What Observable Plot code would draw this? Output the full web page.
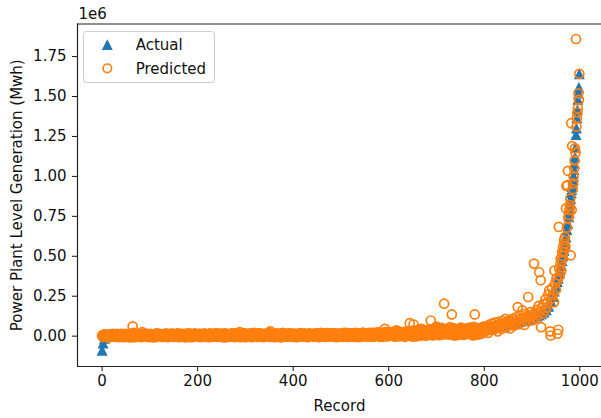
<!DOCTYPE html>
<html>
<head>
<meta charset="utf-8">
<script src="https://cdn.jsdelivr.net/npm/d3@7"></script>
<script src="https://cdn.jsdelivr.net/npm/@observablehq/plot@0.6"></script>
<style>
html, body { margin: 0; padding: 0; background: #fff; overflow: hidden; }
#chart { width: 601px; height: 418px; }
</style>
</head>
<body>
<div id="chart"></div>
<script>
// ---------- DATA (values in thousands of Mwh) ----------
const seriesNames = ["Actual", "Predicted"];
const yTicks = [0, 0.25, 0.5, 0.75, 1.0, 1.25, 1.5, 1.75];   // in 1e6 Mwh
const xTicks = [0, 200, 400, 600, 800, 1000];

// Actual: record numbers and values
const actualRecord = [0, 2, 5, 10, 20, 40, 60, 80, 100, 120, 140, 160, 180, 200, 220, 240, 260, 280, 300,
  320, 340, 360, 380, 400, 420, 440, 460, 480, 500, 520, 540, 560, 580, 600, 620, 640, 660, 680, 700,
  720, 740, 760, 780,
  800, 805, 810, 815, 820, 825, 830, 835, 840, 845, 850, 855, 860, 865, 870, 875, 880, 885, 890, 895,
  900, 905, 910, 915, 920, 925, 930, 935, 940, 944, 947, 950, 953, 955, 957, 959, 961, 963, 965, 967,
  969, 971, 973, 975, 977, 978, 979, 980, 981, 982, 983, 984, 985, 986, 987, 988, 989, 990, 991, 992,
  993, 994, 995, 996, 997, 998, 999];
const actualValue = [-90, -45, -15, -3, 0, 1, 1, 2, 2, 2, 3, 3, 3, 3, 4, 4, 4, 5, 5,
  5, 6, 6, 6, 7, 7, 7, 8, 8, 9, 9, 10, 10, 11, 12, 13, 14, 16, 18, 20,
  23, 27, 32, 38,
  45, 47, 50, 52, 55, 57, 60, 63, 66, 69, 72, 75, 78, 82, 86, 90, 94, 98, 102, 107,
  112, 117, 123, 130, 138, 148, 162, 185, 215, 245, 280, 310, 340, 360, 390, 415, 440, 470, 500, 535,
  575, 620, 665, 705, 745, 770, 800, 830, 860, 895, 915, 935, 955, 975, 1000, 1040, 1080, 1120, 1180, 1260,
  1300, 1365, 1415, 1480, 1520, 1555, 1640];

// Predicted, records 0, 4, 8, ... 796
const predictedFlatA = [
  2, 8, -3, 5, 0, 6, -2, 4, 7, 1,
  3, -4, 9, 2, 6, -1, 61, 5, 0, 8,
  3, 25, -2, 7, 1, 4, -3, 9, 2, 5,
  6, 0, 10, 3, -2, 8, 4, 1, 11, 5,
  2, 9, -1, 6, 12, 3, 7, 0, 5, 10,
  4, 8, 1, 11, 6, -2, 9, 3, 7, 12,
  5, 1, 10, 6, 13, 3, 8, -1, 11, 4,
  9, 2, 25, 7, 12, 5, 0, 10, 14, 6,
  3, 11, 8, 1, 13, 6, 10, 4, 30, 9,
  12, 5, 15, 8, 2, 11, 14, 7, 10, 4,
  8, 3, 12, 0, 6, -3, 10, 5, 2, 13,
  7, -1, 10, 14, 4, 8, 1, 11, 6, 15,
  4, 10, 2, 15, 8, 12, 0, 9, 16, 6,
  12, 4, 17, 9, 2, 14, 18, 7, 11, 15,
  8, 19, 4, 14, 11, 20, 9, 16, 46, 12,
  14, 24, 8, 21, 36, 12, 19, 5, 23, 16,
  22, 81, 15, 73, 28, 10, 25, 46, 18, 30,
  30, 41, 98, 22, 44, 60, 15, 36, 28, 203,
  30, 18, 56, 136, 40, 12, 35, 24, 45, 8,
  38, 15, 48, 28, 5, 136, 42, 20, 52, 30];

// Predicted, records 1, 5, 9, ... 797
const predictedFlatB = [
  5, -2, 11, 7, -5, 3, 13, 0, 9, -3,
  14, 6, -1, 10, 4, 16, -4, 8, 12, 1,
  -3, 9, 15, 2, 11, -5, 7, 13, 0, 16,
  8, 3, -4, 12, 6, 15, -2, 10, 4, 14,
  11, -3, 7, 15, 1, 9, -6, 13, 5, -1,
  9, 14, 2, -4, 12, 7, 16, -2, 10, 5,
  13, -3, 9, 4, 15, -6, 11, 6, -2, 17,
  6, 14, 10, -3, 8, 15, 3, -5, 12, 9,
  16, 2, -4, 11, 7, -1, 14, 5, 12, -3,
  8, 15, 3, 13, -4, 17, 6, 11, -2, 14,
  4, 12, -5, 9, 16, 2, -2, 14, 10, 5,
  15, 3, 8, -4, 12, 17, 5, -3, 10, 13,
  6, -2, 14, 9, 3, 18, -4, 12, 7, 16,
  2, 16, 8, -3, 13, 5, -1, 19, 9, 4,
  17, 6, -2, 22, 11, 3, 14, -4, 19, 8,
  5, 18, 12, -3, 24, 9, 15, 2, 27, 11,
  18, 4, 26, 12, -2, 32, 20, 8, 29, 14,
  10, 36, 22, 5, 40, 18, 30, 12, 45, 26,
  34, 10, 48, 22, 4, 44, 28, 18, 50, 38,
  12, 42, 30, 54, 24, 8, 46, 36, 14, 55];

// Predicted, records 2, 6, 10, ... 798
const predictedFlatC = [
  -6, 12, 3, -8, 9, 14, -4, 10, -7, 13,
  11, -6, 15, 4, -8, 12, 20, -5, 14, 3,
  -7, 16, 6, 12, -6, 14, 2, -8, 17, 9,
  13, -5, 8, 17, -7, 11, 15, -4, 6, 18,
  -6, 14, 10, -8, 16, 4, 13, -5, 18, 7,
  15, -7, 12, 17, 2, -6, 16, 11, -4, 19,
  -5, 16, 7, -8, 18, 12, -3, 15, 9, -6,
  17, 8, -7, 14, 19, -4, 12, 16, -6, 20,
  10, -5, 18, 13, -7, 16, 8, 19, -3, 14,
  -6, 17, 11, -8, 20, 9, -4, 18, 13, -5,
  16, -6, 12, 19, -3, 14, 8, -7, 17, 11,
  -4, 18, 13, -6, 20, 10, -5, 17, 14, -2,
  19, 7, -6, 16, 12, -3, 21, 9, -5, 18,
  13, -4, 20, 11, -6, 17, 22, -2, 15, 10,
  -3, 21, 14, 6, 24, -5, 18, 12, 27, -1,
  20, 8, 26, -2, 17, 29, 5, 22, -4, 25,
  12, 30, -3, 21, 34, 7, 27, 15, 38, 2,
  28, 44, 10, 33, 18, 50, 6, 37, 24, 41,
  16, 38, 26, 8, 42, 22, 34, 12, 45, 28,
  20, 46, 36, 10, 48, 26, 42, 16, 50, 34];

// Predicted, records 3, 7, 11, ... 799
const predictedFlatD = [
  10, 1, -5, 8, 12, -1, 6, 15, 3, -4,
  7, 13, 2, -3, 11, 9, -6, 14, 5, 10,
  12, -1, 6, 14, 8, -4, 11, 3, 15, -2,
  1, 13, 9, -5, 10, 2, 16, 7, -3, 12,
  14, 6, -2, 11, 8, 17, 2, -4, 13, 9,
  -1, 12, 6, 15, 9, 3, -5, 14, 8, 1,
  10, 7, 16, 1, -4, 13, 5, 17, 2, 11,
  -2, 11, 16, 4, -6, 13, 8, 18, 1, 12,
  7, 17, 2, 15, -2, 10, 13, -5, 16, 6,
  14, -1, 9, 16, 5, -3, 12, 2, 17, 8,
  -2, 15, 7, 3, 13, 18, -4, 9, 14, 1,
  11, 7, 17, -2, 5, 14, 9, 19, -3, 12,
  9, 17, 3, -5, 15, 6, 13, 20, 2, -2,
  15, 7, -4, 18, 12, 1, 16, 8, -3, 20,
  10, -3, 16, 13, 4, 21, 7, 24, 15, 2,
  13, 20, 6, 28, 10, -1, 22, 16, 4, 30,
  6, 22, 34, 10, 26, 40, 3, 24, 16, 35,
  20, 8, 28, 46, 14, 38, 24, 52, 10, 32,
  42, 24, 14, 50, 32, 6, 40, 54, 20, 44,
  30, 52, 18, 40, 58, 26, 10, 48, 36, 60];

// Predicted, upper records
const predictedTailRecord = [800, 802, 804, 806, 808, 810, 812, 814, 816, 818, 820,
  822, 824, 826, 828, 830, 832, 834, 836, 838, 840,
  842, 844, 846, 848, 850, 852, 854, 856, 858, 860,
  862, 864, 866, 868, 870, 872, 874, 876, 878, 880,
  882, 884, 886, 888, 890, 892, 894, 896, 898, 900,
  902, 904, 906, 908, 910, 912, 914, 915, 916, 918, 919, 920, 922, 924, 926, 928, 930, 932, 934, 936,
  938, 939, 940, 942, 944, 946, 947, 948, 950, 951, 953, 954, 955, 956, 957, 958, 959, 960, 961, 962,
  963, 964, 965, 966, 967, 968, 969, 970, 971, 972, 973, 974, 975, 976, 977, 978, 979, 980, 981, 982,
  983, 984, 985, 986, 987, 988, 989, 990, 991, 992, 993, 994, 995, 996, 997, 998, 999];
const predictedTailValue = [45, 30, 62, 48, 20, 70, 55, 38, 78, 60, 42,
  85, 50, 68, 30, 90, 58, 75, 45, 95, 62,
  80, 109, 55, 88, 70, 100, 48, 92, 76, 110,
  65, 98, 82, 120, 182, 75, 105, 130, 88, 161,
  115, 70, 140, 100, 125, 245, 95, 150, 118, 135,
  100, 454, 140, 115, 165, 130, 190, 400, 150, 350, 56, 175, 140, 200, 160, 230, 180, 210, 260, 287,
  30, 4, 235, 300, 260, 213, 410, 330, 290, 360, 15, 350, 40, 684, 420, 380, 450, 486, 410, 470,
  527, 500, 560, 530, 600, 580, 620, 560, 800, 940, 680, 945, 1035, 740, 760, 790, 820, 860, 506, 1333,
  790, 1190, 920, 956, 1000, 1050, 1100, 1176, 1150, 1860, 1311, 1364, 1400, 1427, 1520, 1479, 1642];

// ---------- BUILD ----------
const actual = actualRecord.map((r, i) => ({record: r, value: actualValue[i] / 1000}));
const predicted = []
  .concat(predictedFlatA.map((v, i) => ({record: i * 4, value: v / 1000})))
  .concat(predictedFlatB.map((v, i) => ({record: i * 4 + 1, value: v / 1000})))
  .concat(predictedFlatC.map((v, i) => ({record: i * 4 + 2, value: v / 1000})))
  .concat(predictedFlatD.map((v, i) => ({record: i * 4 + 3, value: v / 1000})))
  .concat(predictedTailRecord.map((r, i) => ({record: r, value: predictedTailValue[i] / 1000})))
  .sort((a, b) => a.record - b.record);

const blue = "#1f77b4", orange = "#ff7f0e";
const font = "'DejaVu Sans', sans-serif";

// matplotlib-style "^" marker
const mplTriangle = {
  draw(ctx, size) {
    const r = Math.sqrt(size / Math.PI);
    ctx.moveTo(0, -r); ctx.lineTo(r, r); ctx.lineTo(-r, r); ctx.closePath();
  }
};

const xDomain = [-51.5, 1045.4];
const yDomain = [-0.19, 1.954];

const plot = Plot.plot({
  width: 601,
  height: 418,
  marginLeft: 77,
  marginRight: 0,
  marginTop: 23.5,
  marginBottom: 52,
  style: {fontFamily: font, fontSize: "15px", color: "#111", background: "#fff"},
  x: {domain: xDomain},
  y: {domain: yDomain},
  marks: [
    Plot.axisX({ticks: xTicks, tickSize: 5, tickPadding: 4, tickFormat: d => String(d),
      label: "Record", labelAnchor: "center", labelArrow: "none", labelOffset: 44}),
    Plot.axisY({ticks: yTicks, tickSize: 5, tickPadding: 6, tickFormat: d => d.toFixed(2),
      label: "Power Plant Level Generation (Mwh)", labelAnchor: "center", labelArrow: "none", labelOffset: 66}),
    Plot.dot(actual, {x: "record", y: "value", symbol: mplTriangle, r: 4.5, fill: blue, stroke: blue, strokeWidth: 1.2}),
    Plot.dot(predicted, {x: "record", y: "value", symbol: "circle", r: 4.5, fill: "none", stroke: orange, strokeWidth: 1.7}),
    Plot.ruleX([xDomain[0]], {stroke: "#222", strokeWidth: 1.2}),
    Plot.ruleY([yDomain[0], yDomain[1]], {stroke: "#222", strokeWidth: 1.2}),
    Plot.text(["1e6"], {frameAnchor: "top-left", dx: 1, dy: -5, textAnchor: "start", lineAnchor: "bottom", fill: "#111"})
  ]
});

// legend (matplotlib style)
const svg = d3.select(plot);
const lg = svg.append("g").attr("font-family", font).attr("font-size", "15px").attr("text-anchor", "start");
lg.append("rect").attr("x", 83.5).attr("y", 31.5).attr("width", 131).attr("height", 51).attr("rx", 3)
  .attr("fill", "rgba(255,255,255,0.8)").attr("stroke", "#cccccc").attr("stroke-width", 1);
lg.append("path").attr("transform", "translate(107.3,45)")
  .attr("d", "M0,-4.5L4.5,4.5L-4.5,4.5Z").attr("fill", blue).attr("stroke", blue).attr("stroke-width", 1.2);
lg.append("circle").attr("cx", 107.3).attr("cy", 68.3).attr("r", 4.3)
  .attr("fill", "none").attr("stroke", orange).attr("stroke-width", 1.6);
lg.append("text").attr("x", 135.7).attr("y", 50.3).attr("fill", "#111").attr("text-anchor", "start").text(seriesNames[0]);
lg.append("text").attr("x", 135.7).attr("y", 73.8).attr("fill", "#111").attr("text-anchor", "start").text(seriesNames[1]);

document.getElementById("chart").appendChild(plot);
</script>
</body>
</html>
